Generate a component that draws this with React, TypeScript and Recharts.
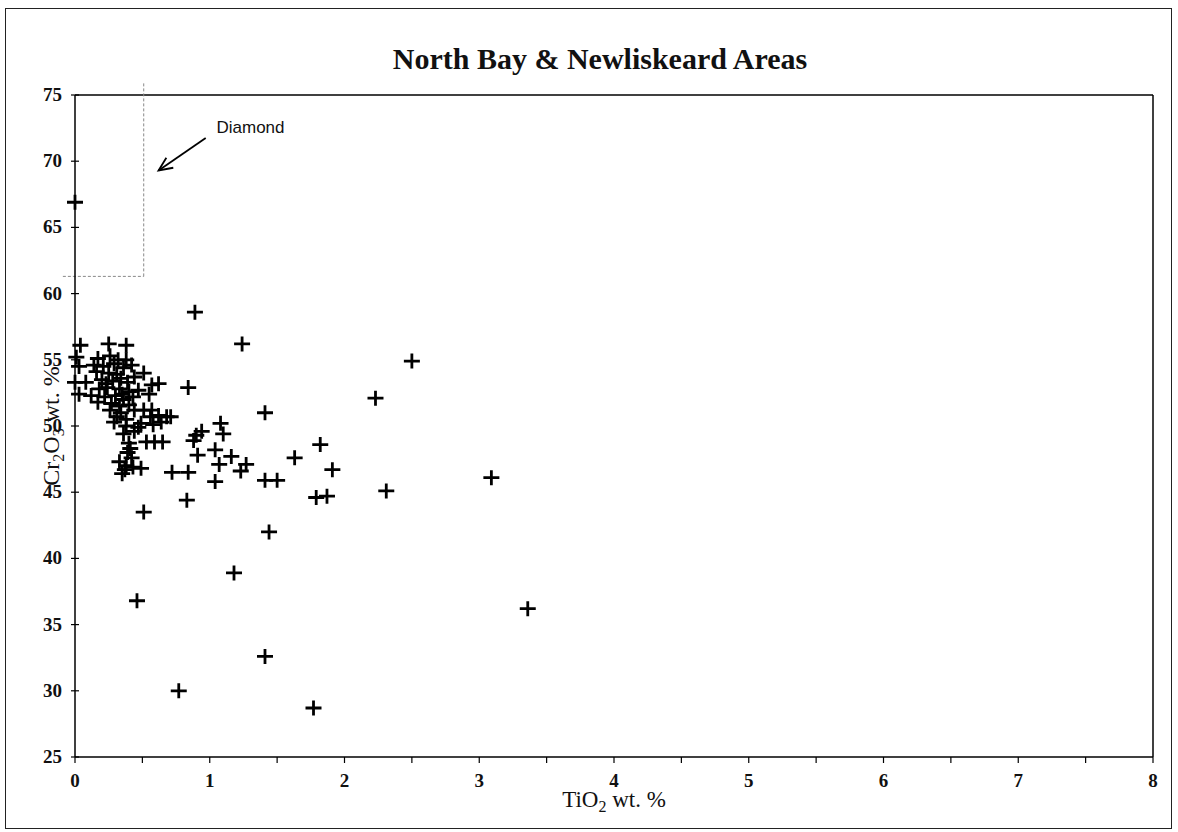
import React from 'react';
import {
  ScatterChart,
  Scatter,
  XAxis,
  YAxis,
  ReferenceLine,
  ReferenceDot,
} from 'recharts';

// TiO2 wt. % (x) and Cr2O3 wt. % (y), one entry per analysed grain
const tio2 = [
  0.0, 0.04, 0.01, 0.03, 0.0, 0.08, 0.03, 0.25, 0.38, 0.17,
  0.26, 0.32, 0.38, 0.14, 0.21, 0.29, 0.36, 0.42, 0.16, 0.25,
  0.31, 0.51, 0.44, 0.2, 0.28, 0.34, 0.39, 0.62, 0.57, 0.18,
  0.24, 0.33, 0.4, 0.47, 0.12, 0.22, 0.3, 0.36, 0.43, 0.55,
  0.17, 0.27, 0.33, 0.4, 0.26, 0.34, 0.44, 0.51, 0.57, 0.31,
  0.38, 0.49, 0.58, 0.64, 0.68, 0.62, 0.71, 0.56, 0.36, 0.44,
  0.38, 0.53, 0.59, 0.65, 0.4, 0.41, 0.39, 0.33, 0.37, 0.43,
  0.38, 0.49, 0.72, 0.84, 0.51, 0.83, 0.84, 0.89, 1.24, 1.41,
  1.08, 1.1, 0.94, 0.9, 0.88, 1.04, 0.91, 1.16, 1.07, 1.27,
  1.23, 1.04, 1.41, 1.5, 1.82, 1.63, 1.91, 1.79, 1.87, 2.23,
  2.31, 2.5, 3.09, 1.44, 1.18, 0.46, 3.36, 1.41, 0.77, 1.77,
  0.23, 0.35, 0.29, 0.47, 0.42, 0.35,
];
const cr2o3 = [
  66.9, 56.1, 55.2, 54.5, 53.3, 53.3, 52.4, 56.2, 56.1, 55.1,
  55.3, 55.0, 55.0, 54.6, 54.5, 54.7, 54.4, 54.6, 54.1, 54.0,
  53.9, 54.0, 53.7, 53.5, 53.4, 53.6, 53.3, 53.2, 53.1, 52.8,
  52.9, 52.8, 52.6, 52.7, 52.3, 52.2, 52.3, 52.0, 52.2, 52.4,
  51.8, 51.7, 51.5, 51.6, 51.2, 51.0, 51.2, 51.2, 51.2, 50.7,
  50.5, 50.2, 50.1, 50.3, 50.7, 50.8, 50.7, 50.7, 49.4, 49.6,
  50.0, 48.8, 48.8, 48.8, 48.7, 48.3, 48.0, 47.3, 46.7, 46.9,
  47.0, 46.8, 46.5, 46.5, 43.5, 44.4, 52.9, 58.6, 56.2, 51.0,
  50.2, 49.4, 49.6, 49.3, 48.9, 48.2, 47.8, 47.7, 47.1, 47.1,
  46.6, 45.8, 45.9, 45.9, 48.6, 47.6, 46.7, 44.6, 44.7, 52.1,
  45.1, 54.9, 46.1, 42.0, 38.9, 36.8, 36.2, 32.6, 30.0, 28.7,
  53.2, 52.4, 50.3, 49.9, 47.6, 46.4,
];

const xTicks = [0, 0.5, 1, 1.5, 2, 2.5, 3, 3.5, 4, 4.5, 5, 5.5, 6, 6.5, 7, 7.5, 8];
const yTicks = [25, 30, 35, 40, 45, 50, 55, 60, 65, 70, 75];

// "Diamond" field box and its annotation
const diamondBox = { xMax: 0.51, yMin: 61.3 };
const arrowTail = { x: 0.97, y: 71.75 };
const arrowTip = { x: 0.62, y: 69.3 };
const diamondLabel = { x: 1.05, y: 72.6, text: 'Diamond' };

const points = tio2.map((x, i) => ({ x, y: cr2o3[i] }));

const SERIF = '"Liberation Serif", "Times New Roman", serif';

const Cross = (props: any) => {
  const { cx, cy } = props;
  if (cx == null || cy == null) return null;
  return (
    <path
      d={`M${cx - 8},${cy}H${cx + 8}M${cx},${cy - 7.5}V${cy + 7.5}`}
      stroke="#000"
      strokeWidth={2.8}
      fill="none"
    />
  );
};

const YTick = ({ x, y, payload }: any) => {
  const ax = x + 13;
  return (
    <g>
      <line x1={ax - 4} x2={ax + 4} y1={y} y2={y} stroke="#000" strokeWidth={1.2} />
      <text
        x={x}
        y={y}
        dy={6}
        textAnchor="end"
        style={{ fontFamily: SERIF, fontSize: 19, fontWeight: 600 }}
        fill="#111"
      >
        {payload.value}
      </text>
    </g>
  );
};

const XTick = ({ x, y, payload }: any) => {
  if (!Number.isInteger(payload.value)) return null;
  return (
    <text
      x={x}
      y={y}
      dy={14}
      textAnchor="middle"
      style={{ fontFamily: SERIF, fontSize: 19, fontWeight: 600 }}
      fill="#111"
    >
      {payload.value}
    </text>
  );
};

const XLabel = ({ viewBox }: any) => {
  const cx = viewBox.x + viewBox.width / 2;
  return (
    <text x={cx} y={viewBox.y + 50} textAnchor="middle" style={{ fontFamily: SERIF, fontSize: 23 }} fill="#111">
      TiO
      <tspan fontSize={16} dy={5}>2</tspan>
      <tspan dy={-5}> wt. %</tspan>
    </text>
  );
};

const YLabel = ({ viewBox }: any) => {
  const cy = viewBox.y + viewBox.height / 2;
  const bx = viewBox.x + 44;
  return (
    <text
      x={bx}
      y={cy}
      textAnchor="middle"
      transform={`rotate(-90, ${bx}, ${cy})`}
      style={{ fontFamily: SERIF, fontSize: 24 }}
      fill="#111"
    >
      Cr
      <tspan fontSize={16} dy={5}>2</tspan>
      <tspan dy={-5}>O</tspan>
      <tspan fontSize={16} dy={5}>3</tspan>
      <tspan dy={-5}> wt. %</tspan>
    </text>
  );
};

const Arrow = (props: any) => {
  const { x1, y1, x2, y2 } = props;
  if (x1 == null) return null;
  const ang = Math.atan2(y1 - y2, x1 - x2);
  const len = 15;
  const a1 = ang + 0.42;
  const a2 = ang - 0.42;
  return (
    <g stroke="#000" strokeWidth={1.8} fill="none">
      <line x1={x1} y1={y1} x2={x2} y2={y2} />
      <path
        d={`M${x2 + len * Math.cos(a1)},${y2 + len * Math.sin(a1)}L${x2},${y2}L${x2 + len * Math.cos(a2)},${y2 + len * Math.sin(a2)}`}
      />
    </g>
  );
};

const LabelText = (props: any) => {
  const { cx, cy } = props;
  return (
    <text x={cx} y={cy} dy={6} fontFamily='"Liberation Sans", Arial, sans-serif' fontSize={17} fill="#111">
      {diamondLabel.text}
    </text>
  );
};

export default function App() {
  return (
    <div style={{ position: 'absolute', left: 0, top: 0, width: 1178, height: 832, background: '#fff' }}>
      <div
        style={{
          position: 'absolute',
          left: 5,
          top: 8,
          width: 1165,
          height: 819,
          border: '1.5px solid #222',
        }}
      />
      <div
        style={{
          position: 'absolute',
          left: 0,
          top: 42,
          width: 1200,
          textAlign: 'center',
          fontFamily: SERIF,
          fontWeight: 'bold',
          fontSize: 30,
          color: '#111',
        }}
      >
        North Bay &amp; Newliskeard Areas
      </div>
      <div style={{ position: 'absolute', left: 0, top: 0 }}>
        <ScatterChart width={1178} height={832} margin={{ top: 95, right: 25, bottom: 35, left: 15 }}>
          <XAxis
            type="number"
            dataKey="x"
            domain={[0, 8]}
            ticks={xTicks}
            interval={0}
            axisLine={{ stroke: '#000', strokeWidth: 1.5 }}
            tickLine={{ stroke: '#000', strokeWidth: 1.2 }}
            tickSize={6}
            tickMargin={10}
            tick={<XTick />}
            height={40}
            label={<XLabel />}
          />
          <YAxis
            type="number"
            dataKey="y"
            domain={[25, 75]}
            ticks={yTicks}
            interval={0}
            axisLine={{ stroke: '#000', strokeWidth: 1.5 }}
            tickLine={false}
            tickSize={4}
            tickMargin={9}
            tick={<YTick />}
            width={60}
            label={<YLabel />}
          />
          <ReferenceLine y={75} stroke="#000" strokeWidth={1.5} />
          <ReferenceLine x={8} stroke="#000" strokeWidth={1.5} />
          <ReferenceLine
            segment={[
              { x: diamondBox.xMax, y: diamondBox.yMin },
              { x: diamondBox.xMax, y: 75.9 },
            ]}
            ifOverflow="visible"
            stroke="#888"
            strokeWidth={1}
            strokeDasharray="3 2"
          />
          <ReferenceLine
            segment={[
              { x: -0.09, y: diamondBox.yMin },
              { x: diamondBox.xMax, y: diamondBox.yMin },
            ]}
            ifOverflow="visible"
            stroke="#888"
            strokeWidth={1}
            strokeDasharray="3 2"
          />
          <ReferenceLine
            segment={[arrowTail, arrowTip]}
            ifOverflow="visible"
            shape={<Arrow />}
          />
          <ReferenceDot
            x={diamondLabel.x}
            y={diamondLabel.y}
            r={0}
            ifOverflow="visible"
            shape={<LabelText />}
          />
          <Scatter data={points} shape={<Cross />} isAnimationActive={false} />
        </ScatterChart>
      </div>
    </div>
  );
}
